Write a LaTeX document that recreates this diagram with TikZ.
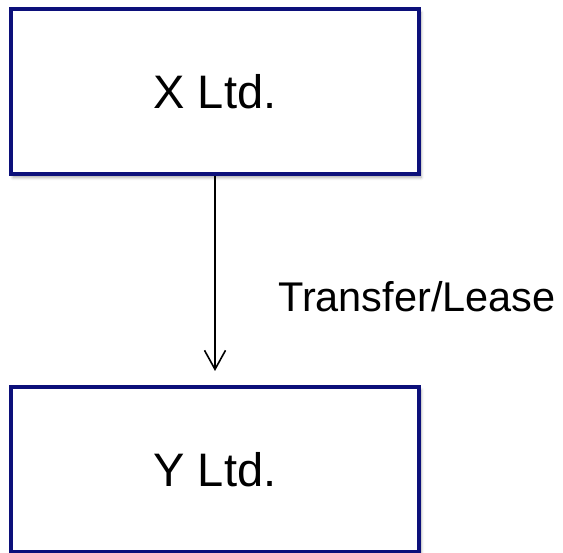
\documentclass[tikz,border=0pt]{standalone}
\usepackage{fontspec}
\setmainfont{Liberation Sans}
\usetikzlibrary{arrows.meta,shadows.blur}
\definecolor{boxnavy}{RGB}{12,16,122}
\tikzset{
  entity/.style={draw=boxnavy, line width=4pt, fill=white,
    minimum width=408pt, minimum height=165pt, inner sep=0pt,
    font=\fontsize{47}{56}\selectfont,
    blur shadow={shadow xshift=2pt, shadow yshift=-3pt,
      shadow blur radius=3pt, shadow opacity=35}},
  flow/.style={line width=1.6pt, -{Straight Barb[length=19pt,width=21pt,line width=1.6pt]}},
  flowlabel/.style={inner sep=0pt, anchor=base west,
    font=\fontsize{41.5}{50}\selectfont}
}
\begin{document}
\begin{tikzpicture}[x=1pt,y=-1pt]
  \useasboundingbox (0,0) rectangle (563,553);
  \node[entity] (x) at (215,92) {X Ltd.};
  \node[entity] (y) at (215,469.5) {Y Ltd.};
  \coordinate (tip) at (215,371);
  \draw[flow] (x.south) -- (tip);
  \node[flowlabel] (lbl) at (278,312) {Transfer/Lease};
\end{tikzpicture}
\end{document}
